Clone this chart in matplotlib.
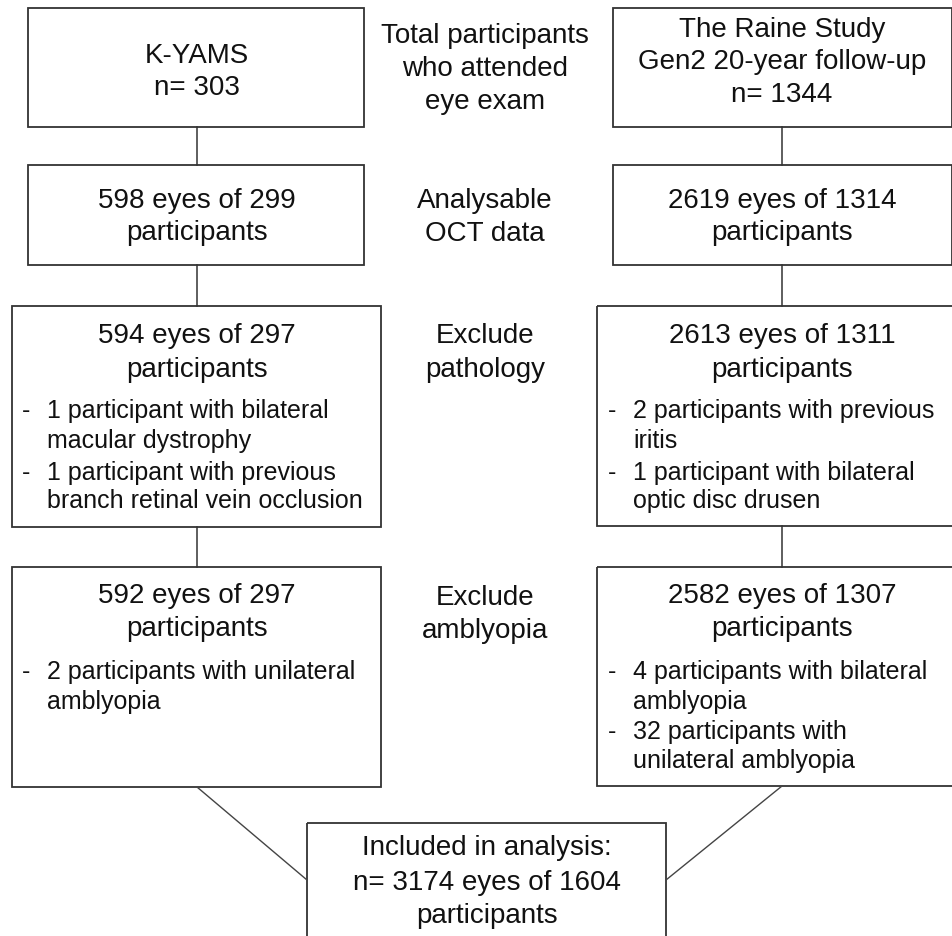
import matplotlib.pyplot as plt
from matplotlib.patches import Rectangle

plt.rcParams["font.family"] = ["Liberation Sans", "DejaVu Sans"]

# ---- content ----
stage_labels = [
    ["Total participants", "who attended", "eye exam"],
    ["Analysable", "OCT data"],
    ["Exclude", "pathology"],
    ["Exclude", "amblyopia"],
]

kyams_titles = [
    ["K-YAMS", "n= 303"],
    ["598 eyes of 299", "participants"],
    ["594 eyes of 297", "participants"],
    ["592 eyes of 297", "participants"],
]
kyams_notes = [
    [],
    [],
    [["1 participant with bilateral", "macular dystrophy"],
     ["1 participant with previous", "branch retinal vein occlusion"]],
    [["2 participants with unilateral", "amblyopia"]],
]

raine_titles = [
    ["The Raine Study", "Gen2 20-year follow-up", "n= 1344"],
    ["2619 eyes of 1314", "participants"],
    ["2613 eyes of 1311", "participants"],
    ["2582 eyes of 1307", "participants"],
]
raine_notes = [
    [],
    [],
    [["2 participants with previous", "iritis"],
     ["1 participant with bilateral", "optic disc drusen"]],
    [["4 participants with bilateral", "amblyopia"],
     ["32 participants with", "unilateral amblyopia"]],
]

final_lines = ["Included in analysis:", "n= 3174 eyes of 1604", "participants"]

# ---- layout (pixel coordinates, y downwards) ----
W, H = 953, 936
left_boxes = [(28, 8, 364, 127), (28, 165, 364, 265),
              (12, 306, 381, 527), (12, 567, 381, 787)]
right_boxes = [(613, 8, 952, 127), (613, 165, 952, 265),
               (597, 306, 956, 526), (597, 567, 956, 786)]
final_box = (307, 823, 666, 950)
left_cx, right_cx, mid_cx = 197, 782, 485

title_base = [[63, 95], [208, 240], [343, 377], [603, 636]]
raine_top_base = [37, 69, 102]
mid_base = [[43, 76, 109], [208, 241], [343, 377], [605, 638]]
note_base = [[], [], [418, 448, 480, 508], [679, 709, 739, 768]]
final_base = [855, 890, 923]

TITLE_FS = 20
NOTE_FS = 18
EDGE = "#333333"
TXT = "#111111"

fig = plt.figure(figsize=(W / 100, H / 100), dpi=100)
ax = fig.add_axes([0, 0, 1, 1])
ax.set_xlim(0, W)
ax.set_ylim(H, 0)
ax.axis("off")


def box(b):
    x0, y0, x1, y1 = b
    ax.add_patch(Rectangle((x0, y0), x1 - x0, y1 - y0, fill=False,
                           edgecolor=EDGE, linewidth=1.3))


def lines_center(lines, cx, bases, fs=TITLE_FS):
    for s, y in zip(lines, bases):
        ax.text(cx, y, s, ha="center", va="baseline", fontsize=fs, color=TXT)


def notes(groups, dash_x, text_x, bases):
    i = 0
    for g in groups:
        for j, s in enumerate(g):
            if j == 0:
                ax.text(dash_x, bases[i], "-", ha="left", va="baseline",
                        fontsize=NOTE_FS, color=TXT)
            ax.text(text_x, bases[i], s, ha="left", va="baseline",
                    fontsize=NOTE_FS, color=TXT)
            i += 1


for k in range(4):
    box(left_boxes[k])
    box(right_boxes[k])
    lines_center(kyams_titles[k], left_cx, title_base[k])
    if k == 0:
        lines_center(raine_titles[k], right_cx, raine_top_base)
    else:
        lines_center(raine_titles[k], right_cx, title_base[k])
    lines_center(stage_labels[k], mid_cx, mid_base[k])
    notes(kyams_notes[k], 22, 47, note_base[k])
    notes(raine_notes[k], 608, 633, note_base[k])

# vertical connectors
for k in range(3):
    ax.plot([left_cx, left_cx], [left_boxes[k][3], left_boxes[k + 1][1]],
            color=EDGE, lw=1.1)
    ax.plot([right_cx, right_cx], [right_boxes[k][3], right_boxes[k + 1][1]],
            color=EDGE, lw=1.1)

# final box and diagonals
box(final_box)
lines_center(final_lines, 487, final_base)
ax.plot([left_cx, final_box[0]], [left_boxes[3][3], 880], color="#444444", lw=1.0)
ax.plot([right_cx, final_box[2]], [right_boxes[3][3], 880], color="#444444", lw=1.0)

fig.savefig("out.png", dpi=100, facecolor="white")
